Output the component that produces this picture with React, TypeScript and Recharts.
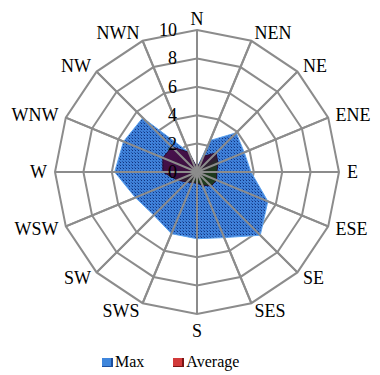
import React from 'react';
import {
  RadarChart,
  Radar,
  PolarGrid,
  PolarAngleAxis,
  PolarRadiusAxis,
  Legend,
} from 'recharts';

const FONT = 'Liberation Serif, Times New Roman, DejaVu Serif, serif';

const directions = ['N', 'NEN', 'NE', 'ENE', 'E', 'ESE', 'SE', 'SES', 'S', 'SWS', 'SW', 'WSW', 'W', 'WNW', 'NW', 'NWN'];
const maxValues = [0.3, 2.4, 3.9, 3.6, 3.8, 5.4, 6.3, 5.0, 4.7, 4.7, 4.3, 4.7, 5.8, 5.6, 5.4, 1.5];
const averageValues = [0.3, 1.2, 1.9, 1.6, 1.4, 1.5, 1.4, 1.0, 0.8, 0.8, 1.0, 1.5, 2.4, 2.6, 2.5, 1.5];
const radiusTicks = [0, 2, 4, 6, 8, 10];

const data = directions.map((dir, i) => ({
  dir,
  max: maxValues[i],
  average: averageValues[i],
}));

const legendItems = [
  { label: 'Max', color: '#3f86dc', dark: '#1d4f9e' },
  { label: 'Average', color: '#d23a3a', dark: '#7a1414' },
];

const AngleTick = (props: any) => {
  const { x, y, payload, textAnchor } = props;
  let dy = 0;
  if (payload.value === 'N') dy = -3;
  if (payload.value === 'S') dy = 9;
  return (
    <text
      x={x}
      y={y + dy}
      textAnchor={textAnchor}
      dominantBaseline="central"
      style={{ fontFamily: FONT, fontSize: 18 }}
      fill="#000"
    >
      {payload.value}
    </text>
  );
};

const RadiusTick = (props: any) => {
  const { x, y, payload } = props;
  return (
    <text
      x={x - 20}
      y={y}
      textAnchor="end"
      dominantBaseline="central"
      style={{ fontFamily: FONT, fontSize: 18 }}
      fill="#000"
    >
      {payload.value}
    </text>
  );
};

const renderLegend = () => (
  <div
    style={{
      display: 'flex',
      alignItems: 'center',
      height: 18,
      paddingLeft: 94,
      fontFamily: FONT,
      fontSize: 16,
      color: '#000',
    }}
  >
    {legendItems.map((item, i) => (
      <div key={item.label} style={{ display: 'flex', alignItems: 'center', marginLeft: i === 0 ? 0 : 29 }}>
        <span
          style={{
            display: 'inline-block',
            width: 9,
            height: 8,
            background: item.color,
            borderRight: `2px solid ${item.dark}`,
            borderBottom: `1px solid ${item.dark}`,
            marginRight: 2,
          }}
        />
        <span>{item.label}</span>
      </div>
    ))}
  </div>
);

export default function App() {
  return (
    <RadarChart
      width={372}
      height={367}
      data={data}
      cx={189}
      cy={164}
      outerRadius={142}
      margin={{ top: 0, right: 0, bottom: 0, left: 0 }}
    >
      <defs>
        <pattern id="maxTexture" width="3" height="3" patternUnits="userSpaceOnUse">
          <rect width="3" height="3" fill="#3f80d8" />
          <rect x="1" y="1" width="1" height="1" fill="#10327e" />
          <rect x="0" y="0" width="1" height="1" fill="#2458ad" />
        </pattern>
        <linearGradient id="avgFill" x1="0" y1="0" x2="1" y2="1">
          <stop offset="0%" stopColor="#4c1250" />
          <stop offset="55%" stopColor="#3a0e3e" />
          <stop offset="75%" stopColor="#1e3a1d" />
          <stop offset="100%" stopColor="#1e3a1d" />
        </linearGradient>
      </defs>
      <PolarGrid gridType="polygon" stroke="#8c8c8c" strokeWidth={2} />
      <PolarAngleAxis dataKey="dir" tick={<AngleTick />} tickLine={false} axisLine={false} />
      <PolarRadiusAxis
        angle={90}
        domain={[0, 10]}
        ticks={radiusTicks}
        tickCount={6}
        axisLine={false}
        tick={<RadiusTick />}
      />
      <Radar
        name="Max"
        dataKey="max"
        fill="url(#maxTexture)"
        fillOpacity={1}
        stroke="#5ea4f0"
        strokeWidth={1}
        isAnimationActive={false}
      />
      <Radar
        name="Average"
        dataKey="average"
        fill="url(#avgFill)"
        fillOpacity={1}
        stroke="#2a0a2a"
        strokeWidth={1}
        isAnimationActive={false}
      />
      <PolarGrid gridType="polygon" polarRadius={[]} stroke="#8c8c8c" strokeWidth={2} zIndex={100} />
      <Legend content={renderLegend} wrapperStyle={{ left: 0, top: 345, width: 372 }} />
    </RadarChart>
  );
}
